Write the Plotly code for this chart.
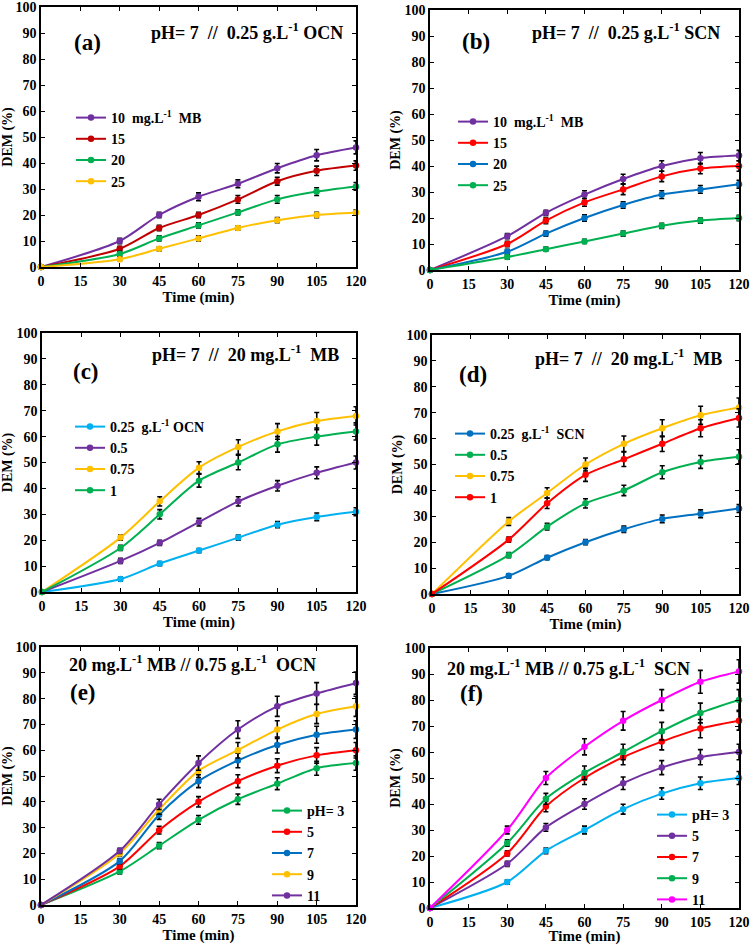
import plotly.graph_objects as go

W, H = 753, 945
time_min = [0, 30, 45, 60, 75, 90, 105, 120]
x_ticks = [0, 15, 30, 45, 60, 75, 90, 105, 120]
y_ticks = [0, 10, 20, 30, 40, 50, 60, 70, 80, 90, 100]

PURPLE = "#7030A0"
DRED = "#C00000"
RED = "#FF0000"
GREEN = "#00B050"
ORANGE = "#FFC000"
BLUE = "#0070C0"
LBLUE = "#00B0F0"
MAGENTA = "#FF00FF"

# ---- panel (a): pH 7, 0.25 g/L OCN, varying MB ----
a_names = ["10&nbsp;&nbsp;mg.L<sup>-1</sup>&nbsp;&nbsp;MB", "15", "20", "25"]
a_10 = [0, 10, 20, 27, 32, 38, 43, 46]
a_15 = [0, 7, 15, 20, 26, 33, 37, 39]
a_20 = [0, 5, 11, 16, 21, 26, 29, 31]
a_25 = [0, 3, 7, 11, 15, 18, 20, 21]
a_err10 = [0, 1, 1, 1.5, 1.5, 1.8, 2.2, 2.5]
a_err15 = [0, 1, 1, 1, 1.5, 1.5, 1.8, 1.8]
a_err20 = [0, 1, 1, 1, 1, 1.5, 1.5, 1.5]
a_err25 = [0, 0.8, 0.8, 1, 0.8, 1, 1, 1]

# ---- panel (b): pH 7, 0.25 g/L SCN, varying MB ----
b_names = ["10&nbsp;&nbsp;mg.L<sup>-1</sup>&nbsp;&nbsp;MB", "15", "20", "25"]
b_10 = [0, 13, 22, 29, 35, 40, 43, 44]
b_15 = [0, 10, 19, 26, 31, 36, 39, 40]
b_20 = [0, 7, 14, 20, 25, 29, 31, 33]
b_25 = [0, 5, 8, 11, 14, 17, 19, 20]
b_err10 = [0, 1, 1, 1.5, 1.8, 2, 2.2, 2]
b_err15 = [0, 1, 1.2, 1.5, 2, 2, 2, 2]
b_err20 = [0, 1, 1, 1.2, 1.2, 1.5, 1.5, 1.5]
b_err25 = [0, 0.8, 0.8, 0.8, 1, 1, 1, 1]

# ---- panel (c): pH 7, 20 mg/L MB, varying OCN dose ----
c_names = ["0.25&nbsp;&nbsp;g.L<sup>-1</sup>&nbsp;OCN", "0.5", "0.75", "1"]
c_025 = [0, 5, 11, 16, 21, 26, 29, 31]
c_05 = [0, 12, 19, 27, 35, 41, 46, 50]
c_075 = [0, 21, 35, 48, 56, 62, 66, 68]
c_1 = [0, 17, 30, 43, 50, 57, 60, 62]
c_err025 = [0, 0.8, 0.8, 0.8, 1, 1.2, 1.5, 1.5]
c_err05 = [0, 1, 1, 1.5, 1.8, 2, 2.3, 2.5]
c_err075 = [0, 1, 1.8, 2.3, 2.8, 3, 3.3, 3.5]
c_err1 = [0, 1, 1.8, 2.5, 2.8, 3, 3.3, 3.3]

# ---- panel (d): pH 7, 20 mg/L MB, varying SCN dose ----
d_names = ["0.25&nbsp;&nbsp;g.L<sup>-1</sup>&nbsp;&nbsp;SCN", "0.5", "0.75", "1"]
d_025 = [0, 7, 14, 20, 25, 29, 31, 33]
d_05 = [0, 15, 26, 35, 40, 47, 51, 53]
d_075 = [0, 28, 39, 50, 58, 64, 69, 72]
d_1 = [0, 21, 35, 46, 52, 58, 64, 68]
d_err025 = [0, 0.8, 0.8, 1, 1.2, 1.5, 1.5, 1.5]
d_err05 = [0, 1, 1.3, 1.8, 2, 2.5, 2.5, 2.7]
d_err075 = [0, 1.5, 2, 2.5, 3, 3.3, 3.5, 3.7]
d_err1 = [0, 1, 2, 2.5, 2.8, 3, 3.3, 3.5]

# ---- panel (e): 20 mg/L MB, 0.75 g/L OCN, varying pH ----
e_names = ["pH=&nbsp;3", "5", "7", "9", "11"]
e_3 = [0, 13, 23, 33, 41, 47, 53, 55]
e_5 = [0, 15, 29, 40, 48, 54, 58, 60]
e_7 = [0, 17, 35, 48, 56, 62, 66, 68]
e_9 = [0, 20, 37, 52, 60, 68, 74, 77]
e_11 = [0, 21, 39, 55, 68, 77, 82, 86]
e_err3 = [0, 1, 1.2, 1.7, 2, 2.3, 2.7, 2.8]
e_err5 = [0, 1, 1.5, 2, 2.5, 2.7, 3, 3]
e_err7 = [0, 1, 1.8, 2.5, 2.8, 3.1, 3.3, 3.4]
e_err9 = [0, 1, 1.8, 2.6, 3, 3.4, 3.7, 3.9]
e_err11 = [0, 1, 2, 2.8, 3.4, 3.9, 4.2, 4.3]

# ---- panel (f): 20 mg/L MB, 0.75 g/L SCN, varying pH ----
f_names = ["pH=&nbsp;3", "5", "7", "9", "11"]
f_3 = [0, 10, 22, 30, 38, 44, 48, 50]
f_5 = [0, 17, 31, 40, 48, 54, 58, 60]
f_7 = [0, 21, 39, 50, 58, 64, 69, 72]
f_9 = [0, 25, 42, 52, 60, 68, 75, 80]
f_11 = [0, 30, 50, 62, 72, 80, 87, 91]
f_err3 = [0, 0.8, 1.1, 1.5, 1.9, 2.2, 2.4, 2.5]
f_err5 = [0, 1, 1.5, 2, 2.4, 2.7, 2.9, 3]
f_err7 = [0, 1, 2, 2.5, 2.9, 3.2, 3.5, 3.6]
f_err9 = [0, 1.2, 2.1, 2.6, 3, 3.4, 3.8, 4]
f_err11 = [0, 1.5, 2.5, 3.1, 3.6, 4, 4.4, 4.5]

panels = [
    dict(names=a_names, ys=[a_10, a_15, a_20, a_25], errs=[a_err10, a_err15, a_err20, a_err25],
         colors=[PURPLE, DRED, GREEN, ORANGE],
         box=(41, 356, 7, 267), leg=(71, 102),
         title="pH=&nbsp;7&nbsp;&nbsp;//&nbsp;&nbsp;0.25 g.L<sup>-1</sup> OCN", tpos=(247, 32),
         tag="(a)", gpos=(87, 43)),
    dict(names=b_names, ys=[b_10, b_15, b_20, b_25], errs=[b_err10, b_err15, b_err20, b_err25],
         colors=[PURPLE, RED, BLUE, GREEN],
         box=(430, 739, 10, 270), leg=(453, 106),
         title="pH=&nbsp;7&nbsp;&nbsp;//&nbsp;&nbsp;0.25 g.L<sup>-1</sup> SCN", tpos=(626, 31),
         tag="(b)", gpos=(476, 42)),
    dict(names=c_names, ys=[c_025, c_05, c_075, c_1], errs=[c_err025, c_err05, c_err075, c_err1],
         colors=[LBLUE, PURPLE, ORANGE, GREEN],
         box=(42, 356, 333, 592), leg=(70, 411),
         title="pH=&nbsp;7&nbsp;&nbsp;//&nbsp;&nbsp;20 mg.L<sup>-1</sup>&nbsp;&nbsp;MB", tpos=(245, 353),
         tag="(c)", gpos=(86, 372)),
    dict(names=d_names, ys=[d_025, d_05, d_075, d_1], errs=[d_err025, d_err05, d_err075, d_err1],
         colors=[BLUE, GREEN, ORANGE, RED],
         box=(432, 739, 335, 594), leg=(450, 418),
         title="pH=&nbsp;7&nbsp;&nbsp;//&nbsp;&nbsp;20 mg.L<sup>-1</sup>&nbsp;&nbsp;MB", tpos=(628, 357),
         tag="(d)", gpos=(473, 375)),
    dict(names=e_names, ys=[e_3, e_5, e_7, e_9, e_11], errs=[e_err3, e_err5, e_err7, e_err9, e_err11],
         colors=[GREEN, RED, BLUE, ORANGE, PURPLE],
         box=(41, 356, 647, 905), leg=(267, 795),
         title="20 mg.L<sup>-1</sup> MB // 0.75 g.L<sup>-1</sup>&nbsp;&nbsp;OCN", tpos=(192, 663),
         tag="(e)", gpos=(83, 692)),
    dict(names=f_names, ys=[f_3, f_5, f_7, f_9, f_11], errs=[f_err3, f_err5, f_err7, f_err9, f_err11],
         colors=[LBLUE, PURPLE, RED, GREEN, MAGENTA],
         box=(430, 739, 648, 908), leg=(652, 799),
         title="20 mg.L<sup>-1</sup> MB // 0.75 g.L<sup>-1</sup>&nbsp;&nbsp;SCN", tpos=(568, 667),
         tag="(f)", gpos=(471, 693)),
]

FONT = "Liberation Serif, Times New Roman, serif"
fig = go.Figure()
layout = dict(
    width=W, height=H, margin=dict(l=0, r=0, t=0, b=0), autosize=False,
    paper_bgcolor="white", plot_bgcolor="white", showlegend=True,
    font=dict(family=FONT, color="black", size=14, weight="bold"),
)
annotations = []

for i, p in enumerate(panels):
    k = "" if i == 0 else str(i + 1)
    xa, ya = "x" + k, "y" + k
    legname = "legend" + k
    for name, yv, ev, col in zip(p["names"], p["ys"], p["errs"], p["colors"]):
        fig.add_trace(go.Scatter(
            x=time_min, y=yv, name=name, mode="lines+markers",
            line=dict(color=col, width=2, shape="spline", smoothing=0.8),
            marker=dict(color=col, size=6.5, symbol="circle"),
            error_y=dict(type="data", array=ev, visible=True, color="black", thickness=1.6, width=2.5),
            xaxis=xa, yaxis=ya, legend=legname, cliponaxis=False,
        ))
    l, r, t, b = p["box"]
    axcommon = dict(showline=True, linecolor="black", linewidth=1.6, mirror="ticks",
                    ticks="inside", ticklen=4, tickwidth=1.4, tickcolor="black",
                    showgrid=False, zeroline=False, automargin=False,
                    ticklabeloverflow="allow",
                    tickfont=dict(family=FONT, size=14, weight="bold", color="black"))
    layout["xaxis" + k] = dict(axcommon, domain=[l / W, r / W], range=[0, 120],
                               tickvals=x_ticks, anchor=ya,
                               title=dict(text="Time (min)", standoff=1,
                                          font=dict(family=FONT, size=15, weight="bold")))
    layout["yaxis" + k] = dict(axcommon, domain=[1 - b / H, 1 - t / H], range=[0, 100],
                               tickvals=y_ticks, anchor=xa,
                               title=dict(text="DEM (%)", standoff=1,
                                          font=dict(family=FONT, size=14, weight="bold")))
    lx, ly = p["leg"]
    layout[legname] = dict(x=lx / W, y=1 - ly / H, xanchor="left", yanchor="top",
                           bgcolor="rgba(0,0,0,0)", borderwidth=0, tracegroupgap=0,
                           font=dict(family=FONT, size=14, weight="bold", color="black"),
                           itemwidth=30)
    tx, ty = p["tpos"]
    annotations.append(dict(text=p["title"], x=tx / W, y=1 - ty / H, xref="paper", yref="paper",
                            xanchor="center", yanchor="middle", showarrow=False,
                            font=dict(family=FONT, size=18, weight="bold", color="black")))
    gx, gy = p["gpos"]
    annotations.append(dict(text=p["tag"], x=gx / W, y=1 - gy / H, xref="paper", yref="paper",
                            xanchor="center", yanchor="middle", showarrow=False,
                            font=dict(family=FONT, size=23, weight="bold", color="black")))

layout["annotations"] = annotations
fig.update_layout(**layout)
fig.write_html("out.html", config={"displayModeBar": False},
               post_script="document.body.style.margin='0';document.body.style.overflow='hidden';")
